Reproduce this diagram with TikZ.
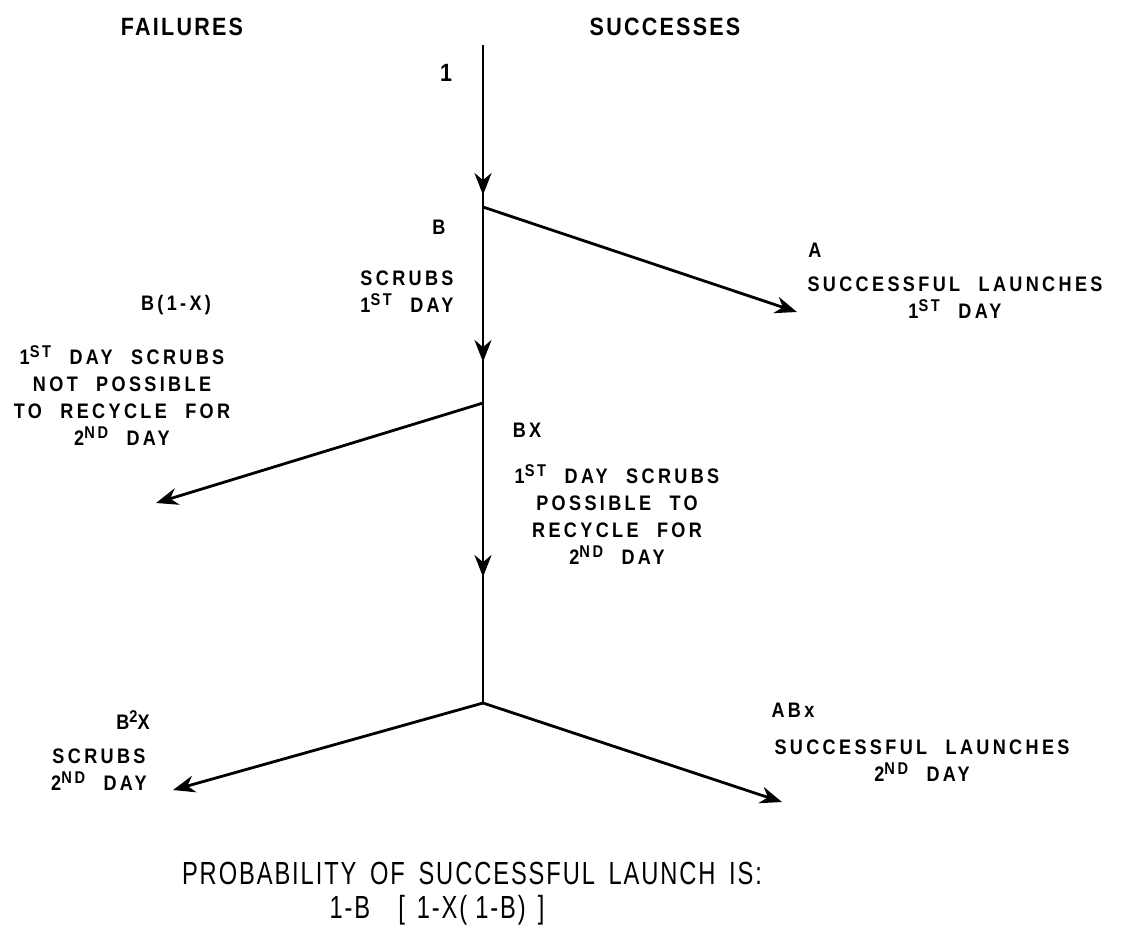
\documentclass[tikz,border=0pt]{standalone}
\usepackage{fontspec}
\setmainfont{Liberation Sans}
\newfontfamily\leroy[FakeStretch=0.86,LetterSpace=16,WordSpace=2.2]{Liberation Sans Bold}
\newfontfamily\leroyhead[FakeStretch=0.86,LetterSpace=9]{Liberation Sans Bold}
\newfontfamily\leroytall[FakeStretch=0.74,LetterSpace=6,WordSpace=1.6]{Liberation Sans}
\newcommand{\sps}[1]{\raisebox{3.5pt}{\fontsize{8.5}{8.5}\selectfont #1}}
\usetikzlibrary{arrows.meta}
\usetikzlibrary{calc}

\begin{document}
\begin{tikzpicture}[
    x=0.5pt, y=-0.5pt,
    line/.style={line width=1.4pt},
    flow/.style={line width=1.4pt, -{Stealth[length=11pt, width=8.5pt]}},
    lbl/.style={inner sep=0pt, align=center, font=\leroy\fontsize{10.5}{13.5}\selectfont},
    head/.style={inner sep=0pt, font=\leroyhead\fontsize{12.5}{15}\selectfont},
    big/.style={inner sep=0pt, font=\leroytall\fontsize{16}{18}\selectfont}
]
    \useasboundingbox (0,0) rectangle (1122,928);

    % Column headings
    \node[head] (HF) at (182,27) {FAILURES};
    \node[head] (HS) at (665,27) {SUCCESSES};

    % Main line and branch points
    \coordinate (V0) at (483,45);
    \coordinate (V1) at (483,207);
    \coordinate (V2) at (483,403);
    \coordinate (V3) at (483,703);
    \coordinate (M1) at ($(V1)+(0,-12)$);
    \coordinate (M2) at ($(V2)+(0,-41)$);
    \coordinate (M3) at ($(V3)+(0,-126)$);
    \coordinate (E1) at ($(V1)+(314,105)$);
    \coordinate (E2) at ($(V2)+(-327,100)$);
    \coordinate (E3) at ($(V3)+(-310,87)$);
    \coordinate (E4) at ($(V3)+(299,99)$);

    \draw[line] (V0) -- (V3);
    \draw[flow] (V0) -- (M1);
    \draw[flow] (V1) -- (M2);
    \draw[flow] (V2) -- (M3);

    % First day
    \node[head] (P0) at ($(V0)+(-37,28)$) {1};
    \node[lbl] (PB) at ($(V1)+(-44,20)$) {B};
    \node[lbl] (TB) at ($(V1)+(-76,85)$) {SCRUBS\\1\sps{ST} DAY};
    \draw[flow] (V1) -- (E1);
    \node[lbl] (PA) at ($(V1)+(332,43)$) {A};
    \node[lbl] (TA) at ($(V1)+(472,91)$) {SUCCESSFUL LAUNCHES\\1\sps{ST} DAY};

    % Recycle or not
    \draw[flow] (V2) -- (E2);
    \node[lbl] (PN) at ($(V2)+(-307,-98)$) {B(1-X)};
    \node[lbl] (TN) at ($(V2)+(-361,-7)$) {1\sps{ST} DAY SCRUBS\\NOT POSSIBLE\\TO RECYCLE FOR\\2\sps{ND} DAY};
    \node[lbl] (PX) at ($(V2)+(44,27)$) {BX};
    \node[lbl] (TX) at ($(V2)+(134,112)$) {1\sps{ST} DAY SCRUBS\\POSSIBLE TO\\RECYCLE FOR\\2\sps{ND} DAY};

    % Second day
    \draw[flow] (V3) -- (E3);
    \draw[flow] (V3) -- (E4);
    \node[lbl] (PS) at ($(V3)+(-350,17)$) {B\sps{2}X};
    \node[lbl] (TS) at ($(V3)+(-384,67)$) {SCRUBS\\2\sps{ND} DAY};
    \node[lbl] (PL) at ($(V3)+(310,7)$) {ABx};
    \node[lbl] (TL) at ($(V3)+(439,58)$) {SUCCESSFUL LAUNCHES\\2\sps{ND} DAY};

    % Result
    \node[big] (R1) at ($(V3)+(-11,170)$) {PROBABILITY OF SUCCESSFUL LAUNCH IS:};
    \node[big] (R2) at ($(V3)+(-46,207)$) {1-B\hspace{14pt}[\hspace{6pt}1-X(\hspace{4pt}1-B)\hspace{6pt}]};
\end{tikzpicture}
\end{document}
